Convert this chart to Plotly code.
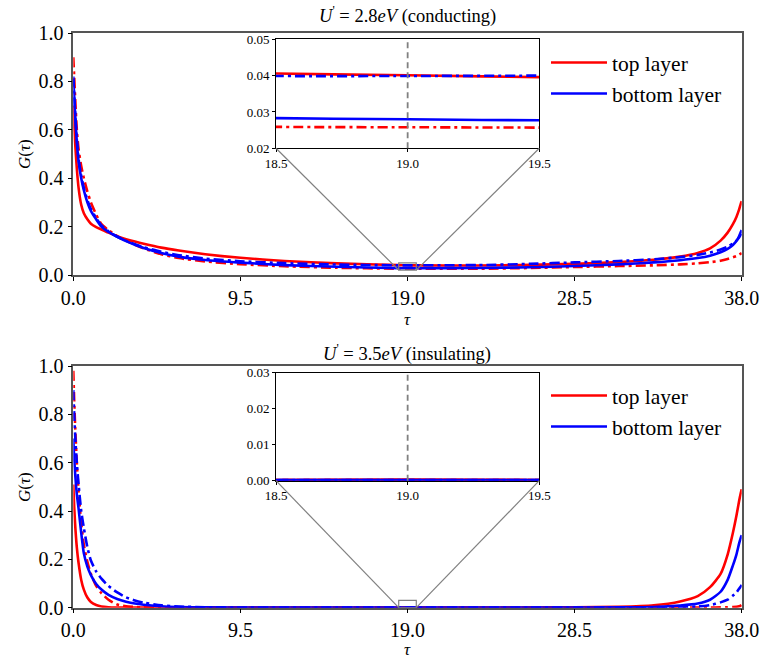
import plotly.graph_objects as go

# imaginary-time grid (beta = 38)
tau = [0, 0.05, 0.1, 0.2, 0.3, 0.45, 0.6, 0.8, 1.0, 1.3, 1.6, 2.0, 2.5, 3.0, 3.5, 4.0,
       5.0, 6.0, 7.5, 9.5, 12, 15, 18.5, 19, 19.5, 23, 26, 28.5, 31, 33, 34.5, 35.5,
       36.2, 36.8, 37.2, 37.5, 37.7, 37.85, 37.95, 38]

# U' = 2.8 eV (conducting)
cond_top_a = [0.70, 0.62, 0.55, 0.44, 0.36, 0.29, 0.255, 0.23, 0.212, 0.198, 0.188, 0.175,
              0.160, 0.148, 0.138, 0.129, 0.113, 0.101, 0.086, 0.071, 0.058, 0.048, 0.0406,
              0.0401, 0.0396, 0.039, 0.042, 0.046, 0.053, 0.063, 0.076, 0.091, 0.110, 0.142,
              0.175, 0.210, 0.240, 0.270, 0.295, 0.305]
cond_top_b = [0.90, 0.82, 0.74, 0.60, 0.52, 0.45, 0.40, 0.345, 0.30, 0.25, 0.21, 0.185,
              0.160, 0.142, 0.125, 0.110, 0.086, 0.070, 0.056, 0.045, 0.036, 0.030, 0.0259,
              0.0258, 0.0257, 0.026, 0.029, 0.033, 0.037, 0.040, 0.044, 0.048, 0.053, 0.059,
              0.066, 0.073, 0.078, 0.084, 0.088, 0.090]
cond_bot_a = [0.81, 0.74, 0.67, 0.55, 0.47, 0.40, 0.35, 0.30, 0.265, 0.23, 0.20, 0.178,
              0.158, 0.140, 0.125, 0.112, 0.091, 0.076, 0.062, 0.051, 0.041, 0.034, 0.0283,
              0.0280, 0.0277, 0.029, 0.032, 0.037, 0.044, 0.052, 0.061, 0.070, 0.080, 0.094,
              0.108, 0.124, 0.140, 0.160, 0.178, 0.186]
cond_bot_b = [0.82, 0.75, 0.68, 0.56, 0.48, 0.41, 0.36, 0.31, 0.272, 0.235, 0.205, 0.180,
              0.158, 0.141, 0.127, 0.115, 0.096, 0.082, 0.068, 0.057, 0.049, 0.043, 0.0399,
              0.0399, 0.0400, 0.041, 0.046, 0.052, 0.058, 0.065, 0.074, 0.083, 0.093, 0.105,
              0.117, 0.130, 0.142, 0.155, 0.167, 0.175]

# U' = 3.5 eV (insulating)
ins_top_a = [0.51, 0.42, 0.35, 0.25, 0.185, 0.115, 0.075, 0.042, 0.024, 0.011, 0.005, 0.002,
             0.0008, 0.0004, 0.0002, 0.0002, 0.0002, 0.0002, 0.0002, 0.0002, 0.0002, 0.0002,
             0.0002, 0.0003, 0.0002, 0.0003, 0.0008, 0.0018, 0.0038, 0.010, 0.026, 0.048,
             0.085, 0.140, 0.22, 0.31, 0.38, 0.44, 0.475, 0.49]
ins_top_b = [0.98, 0.86, 0.76, 0.60, 0.48, 0.35, 0.26, 0.19, 0.14, 0.090, 0.060, 0.033,
             0.013, 0.006, 0.003, 0.0015, 0.0005, 0.0002, 0.0002, 0.0002, 0.0002, 0.0002,
             0.0002, 0.0002, 0.0002, 0.0002, 0.0002, 0.0002, 0.0002, 0.0003, 0.0004, 0.0006,
             0.0009, 0.0014, 0.002, 0.003, 0.004, 0.006, 0.009, 0.012]
ins_bot_a = [0.70, 0.62, 0.56, 0.47, 0.41, 0.31, 0.225, 0.17, 0.135, 0.098, 0.075, 0.053,
             0.036, 0.025, 0.017, 0.012, 0.006, 0.003, 0.0012, 0.0005, 0.0002, 0.0002,
             0.0002, 0.0002, 0.0002, 0.0002, 0.0003, 0.0006, 0.0015, 0.003, 0.009, 0.017,
             0.033, 0.066, 0.115, 0.175, 0.22, 0.265, 0.29, 0.30]
ins_bot_b = [0.90, 0.80, 0.72, 0.60, 0.51, 0.40, 0.33, 0.25, 0.195, 0.15, 0.12, 0.09,
             0.063, 0.043, 0.030, 0.021, 0.010, 0.005, 0.002, 0.0007, 0.0002, 0.0002,
             0.0002, 0.0002, 0.0002, 0.0002, 0.0002, 0.0002, 0.0005, 0.0012, 0.003, 0.005,
             0.011, 0.022, 0.033, 0.050, 0.063, 0.078, 0.088, 0.095]

x_ticks = [0, 9.5, 19.0, 28.5, 38.0]
inset_x_ticks = [18.5, 19.0, 19.5]
cond_inset_y = [0.02, 0.05]
ins_inset_y = [0.0, 0.03]
zoom_x = [18.5, 19.5]

RED = "#ff0000"
BLUE = "#0000ff"
SERIF = "Liberation Serif, Times New Roman, DejaVu Serif, serif"
DASHDOT = "10px,4px,3px,4px"

W, H = 763, 659

# subplot domains (paper coordinates)
main_x = [73.3 / W, 741.7 / W]
top_y = [1 - 275 / H, 1 - 33 / H]
bot_y = [1 - 607.7 / H, 1 - 366 / H]
inset_x = [276 / W, 539.3 / W]
top_inset_y = [1 - 148.3 / H, 1 - 39.3 / H]
bot_inset_y = [1 - 480.7 / H, 1 - 372.7 / H]

fig = go.Figure()

panels = [
    ("x", "y", "x3", "y3", "legend", [cond_top_a, cond_top_b, cond_bot_a, cond_bot_b]),
    ("x2", "y2", "x4", "y4", "legend2", [ins_top_a, ins_top_b, ins_bot_a, ins_bot_b]),
]
for xa, ya, xi, yi, leg, (ta, tb, ba, bb) in panels:
    specs = [
        (ta, RED, "solid", "top layer", True),
        (tb, RED, DASHDOT, "top layer", False),
        (ba, BLUE, "solid", "bottom layer", True),
        (bb, BLUE, DASHDOT, "bottom layer", False),
    ]
    for ax_x, ax_y, main in ((xa, ya, True), (xi, yi, False)):
        for vals, col, dash, name, show in specs:
            fig.add_trace(go.Scatter(
                x=tau, y=vals, xaxis=ax_x, yaxis=ax_y, mode="lines",
                line=dict(color=col, width=2.6, dash=dash, shape="spline", smoothing=0.6),
                name=name, showlegend=(show and main), legend=leg, hoverinfo="skip",
            ))

main_axis = dict(showline=True, mirror=True, linecolor="#555555", linewidth=1.5,
                 ticks="outside", ticklen=4, tickcolor="#000000", showgrid=False,
                 zeroline=False, automargin=False,
                 tickfont=dict(family=SERIF, size=20, color="#000000"))
inset_axis = dict(showline=True, mirror=True, linecolor="#000000", linewidth=1,
                  ticks="outside", ticklen=3, tickcolor="#000000", showgrid=False,
                  zeroline=False, automargin=False,
                  tickfont=dict(family=SERIF, size=13, color="#000000"))

legend_font = dict(family=SERIF, size=21.5, color="#000000")
fig.update_layout(
    width=W, height=H, autosize=False,
    margin=dict(l=0, r=0, t=0, b=0, pad=0),
    font=dict(family=SERIF, color="#000000"),
    paper_bgcolor="white", plot_bgcolor="white",
    xaxis=dict(domain=main_x, range=[0, 38], tickvals=x_ticks, tickformat=".1f",
               anchor="y", **main_axis),
    yaxis=dict(domain=top_y, range=[0, 1], dtick=0.2, tickformat=".1f",
               anchor="x", **main_axis),
    xaxis2=dict(domain=main_x, range=[0, 38], tickvals=x_ticks, tickformat=".1f",
                anchor="y2", **main_axis),
    yaxis2=dict(domain=bot_y, range=[0, 1], dtick=0.2, tickformat=".1f",
                anchor="x2", **main_axis),
    xaxis3=dict(domain=inset_x, range=zoom_x, tickvals=inset_x_ticks, tickformat=".1f",
                anchor="y3", **inset_axis),
    yaxis3=dict(domain=top_inset_y, range=cond_inset_y, dtick=0.01, tickformat=".2f",
                anchor="x3", **inset_axis),
    xaxis4=dict(domain=inset_x, range=zoom_x, tickvals=inset_x_ticks, tickformat=".1f",
                anchor="y4", **inset_axis),
    yaxis4=dict(domain=bot_inset_y, range=ins_inset_y, dtick=0.01, tickformat=".2f",
                anchor="x4", **inset_axis),
    legend=dict(x=546 / W, y=1 - 42 / H, xanchor="left", yanchor="top",
                bgcolor="rgba(255,255,255,0)", itemwidth=56, font=legend_font),
    legend2=dict(x=546 / W, y=1 - 375 / H, xanchor="left", yanchor="top",
                 bgcolor="rgba(255,255,255,0)", itemwidth=56, font=legend_font),
)


def to_paper(dom, rng, v):
    return dom[0] + (v - rng[0]) / (rng[1] - rng[0]) * (dom[1] - dom[0])


shapes = []
for xa, ya, xi, yi, ydom, iydom, yr in (
    ("x", "y", "x3", "y3", top_y, top_inset_y, cond_inset_y),
    ("x2", "y2", "x4", "y4", bot_y, bot_inset_y, ins_inset_y),
):
    # zoomed region marker on the main axes
    shapes.append(dict(type="rect", xref=xa, yref=ya, x0=zoom_x[0], x1=zoom_x[1],
                       y0=yr[0], y1=yr[1], line=dict(color="#808080", width=1.2),
                       layer="above"))
    # connectors from region to the inset's lower corners
    for xv in zoom_x:
        shapes.append(dict(
            type="line", xref="paper", yref="paper",
            x0=to_paper(main_x, [0, 38], xv), y0=to_paper(ydom, [0, 1], yr[0]),
            x1=to_paper(inset_x, zoom_x, xv), y1=iydom[0],
            line=dict(color="#808080", width=1.2), layer="above"))
    # centre marker in the inset
    shapes.append(dict(type="line", xref=xi, yref=yi + " domain", x0=19.0, x1=19.0,
                       y0=0, y1=1, line=dict(color="#808080", width=1.8, dash="6px,4px"),
                       layer="above"))
fig.update_layout(shapes=shapes)

title_font = dict(family=SERIF, size=18.5, color="#000000")
label_font = dict(family=SERIF, size=17, color="#000000")
ann = [
    dict(text="<i>U</i><sup>'</sup> = 2.8<i>eV</i> (conducting)", x=407.5 / W, y=1 - 15 / H,
         font=title_font),
    dict(text="<i>U</i><sup>'</sup> = 3.5<i>eV</i> (insulating)", x=407.5 / W, y=1 - 352 / H,
         font=title_font),
    dict(text="<i>τ</i>", x=407.5 / W, y=1 - 319 / H, font=label_font),
    dict(text="<i>τ</i>", x=407.5 / W, y=1 - 649 / H, font=label_font),
    dict(text="<i>G</i>(<i>τ</i>)", x=25 / W, y=1 - 154 / H, textangle=-90, font=label_font),
    dict(text="<i>G</i>(<i>τ</i>)", x=25 / W, y=1 - 487 / H, textangle=-90, font=label_font),
]
fig.update_layout(annotations=[
    dict(a, xref="paper", yref="paper", showarrow=False, xanchor="center",
         yanchor="middle") for a in ann
])

fig.write_html("out.html", post_script="document.body.style.margin='0';")
